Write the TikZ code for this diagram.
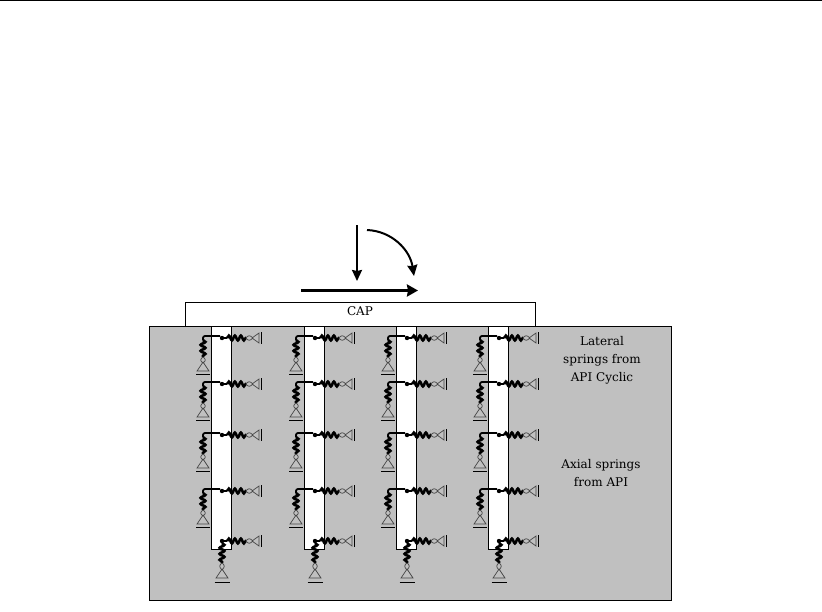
\documentclass[tikz,border=0pt]{standalone}
\usepackage{fontspec}
\setmainfont{DejaVu Serif}
\usetikzlibrary{arrows.meta,decorations.pathmorphing}
\definecolor{soilgray}{RGB}{192,192,192}
\definecolor{springgray}{RGB}{70,70,70}
\tikzset{
  coilspring/.style={line width=2.6pt,decorate,
                     decoration={snake,segment length=6pt,amplitude=2.4pt}},
  thinline/.style={springgray,line width=0.7pt},
  label/.style={font=\fontsize{12}{18}\selectfont,align=center,inner sep=0pt},
  lateralspring/.pic={
    \fill (0,0) circle (2.2);
    \draw[line width=1.8pt] (0,0) -- (5,0);
    \draw[coilspring] (5,0) -- (24,0);
    \draw[thinline] (24,0) .. controls (26,-3) and (28,-3) .. (31,0)
                           .. controls (28,3) and (26,3) .. (24,0);
    \draw[thinline] (30,0) -- (37,-5) -- (37,5) -- cycle;
    \draw[line width=0.9pt] (39.5,-6) -- (39.5,6);
  },
  axialspring/.pic={
    \draw[line width=1.8pt,rounded corners=2pt] (17,0) -- (0,0) -- (0,4);
    \draw[coilspring] (0,4) -- (0,21);
    \draw[thinline] (0,21) .. controls (-3,23) and (-3,25) .. (0,27)
                           .. controls (3,25) and (3,23) .. (0,21);
    \draw[thinline] (0,26) -- (-6,35) -- (6,35) -- cycle;
    \draw[line width=0.9pt] (-7,38) -- (7,38);
  },
  tipspring/.pic={
    \draw[coilspring] (0,2) -- (0,22);
    \draw[thinline] (0,22) .. controls (-3,24) and (-3,26) .. (0,29)
                           .. controls (3,26) and (3,24) .. (0,22);
    \draw[thinline] (0,28) -- (-6,37) -- (6,37) -- cycle;
    \draw[line width=0.9pt] (-7.5,41) -- (7.5,41);
  },
}
\begin{document}
\begin{tikzpicture}[x=1pt,y=-1pt]
  \useasboundingbox (0,0) rectangle (822,611);

  % Page rule
  \draw[line width=0.8pt] (0,0.5) -- (822,0.5);

  % Soil and cap
  \draw[fill=white,line width=0.8pt] (185,326) rectangle (535,302);
  \draw[fill=soilgray,line width=0.8pt] (149,326) rectangle (671,600);
  \node[label] (captext) at (360,311) {CAP};

  % Loads
  \coordinate (vtop) at (357,225);
  \coordinate (vbot) at (357,281);
  \coordinate (htail) at (301,290.5);
  \coordinate (hhead) at (418,290.5);
  \coordinate (mstart) at (367,230);
  \coordinate (mend) at (414,276);
  \draw[-{Stealth[length=11pt,width=10pt,inset=1pt]},line width=2pt] (vtop) -- (vbot);
  \draw[-{Stealth[length=11pt,width=12pt,inset=1pt]},line width=3pt] (htail) -- (hhead);
  \draw[-{Stealth[length=11pt,width=10pt,inset=1pt]},line width=2pt] (mstart) .. controls (392,231) and (410,250) .. (mend);

  % Piles with their springs
  \foreach \px in {211,304,396,488}{
    \draw[fill=white,line width=0.8pt] (\px,326) rectangle (\px+20,549);
    \foreach \ry in {338,384,435,491}{
      \pic at (\px+11,\ry) {lateralspring};
      \pic at (\px-8,\ry-2) {axialspring};
    }
    \pic at (\px+11,541) {lateralspring};
    \pic at (\px+11,541) {tipspring};
  }

  % Notes
  \node[label] (lateraltext) at (602,360) {Lateral\\springs from\\API Cyclic};
  \node[label] (axialtext) at (601,473.5) {Axial springs\\from API};
\end{tikzpicture}
\end{document}
